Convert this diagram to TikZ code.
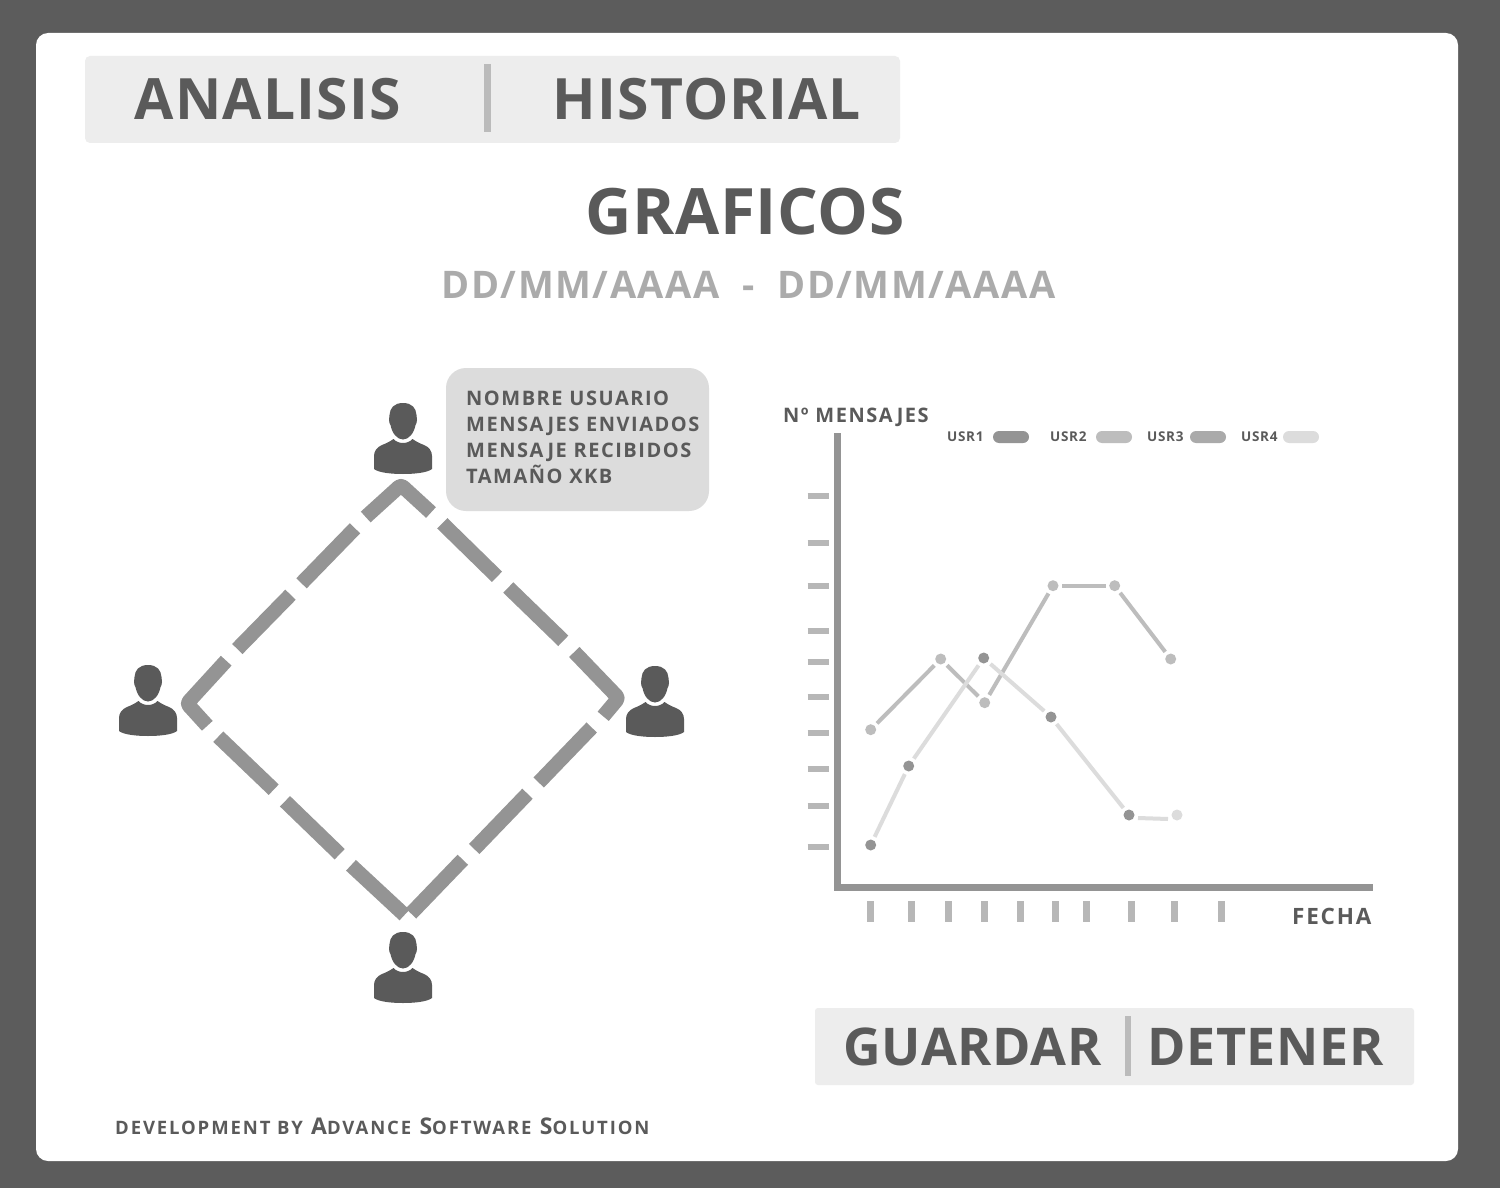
\documentclass[tikz,border=0pt]{standalone}
\usepackage{fontspec}
\usepackage{tikz}
\setmainfont{Open Sans}

\definecolor{bggray}{HTML}{5C5C5C}
\definecolor{txtgray}{HTML}{5A5A5A}
\definecolor{tabgray}{HTML}{EDEDED}
\definecolor{barbgray}{HTML}{BBBBBB}
\definecolor{datetxt}{HTML}{ABABAB}
\definecolor{infogray}{HTML}{DCDCDC}
\definecolor{usrone}{HTML}{949494}
\definecolor{usrtwo}{HTML}{BDBDBD}
\definecolor{usrthree}{HTML}{AAAAAA}
\definecolor{usrfour}{HTML}{DCDCDC}

\newcommand{\lowcaps}[1]{{\fontsize{18.5}{18.5}\selectfont #1}}

\tikzset{
    panel/.style={rectangle, fill=tabgray, rounded corners=5pt, inner sep=0pt},
    bigtext/.style={anchor=base west, inner sep=0pt, text=txtgray, font=\fontsize{57}{57}\selectfont\bfseries\addfontfeatures{LetterSpace=2}},
    btntext/.style={anchor=base west, inner sep=0pt, text=txtgray, font=\fontsize{52}{52}\selectfont\bfseries\addfontfeatures{LetterSpace=1.3}},
    smalltext/.style={anchor=base west, inner sep=0pt, text=txtgray, font=\fontsize{20}{20}\selectfont\bfseries\addfontfeatures{LetterSpace=7.6}},
    legendtext/.style={anchor=base west, inner sep=0pt, text=txtgray, font=\fontsize{13.5}{13.5}\selectfont\bfseries\addfontfeatures{LetterSpace=5}},
    pill/.style={rectangle, rounded corners=6pt, minimum width=36pt, minimum height=12pt, inner sep=0pt},
    link/.style={line width=14.5pt, draw=usrone, line join=round, rounded corners=3pt},
    axisline/.style={line width=7pt, draw=usrone},
    ticky/.style={line width=6pt, draw=usrthree!85},
    tickx/.style={line width=7pt, draw=usrthree!85},
    dot/.style={circle, minimum size=11pt, inner sep=0pt, outer sep=3.5pt},
    series/.style={line width=4pt},
    person/.pic={
        \fill[txtgray] (0,0) .. controls (9,0) and (13,5) .. (13.5,12) -- (14,17) .. controls (14,20) and (13,21) .. (12.5,22) .. controls (11,30) and (6,36.5) .. (0,36.5) .. controls (-6,36.5) and (-11,30) .. (-12.5,22) .. controls (-13,21) and (-14,20) .. (-14,17) -- (-13.5,12) .. controls (-13,5) and (-9,0) .. (0,0) -- cycle;
        \fill[txtgray] (-9.5,36) .. controls (-7,39) and (-3,40) .. (0,40) .. controls (3,40) and (7,39) .. (9.5,36) .. controls (13,38.5) and (17,40.5) .. (21,42) .. controls (26,44) and (29,48) .. (29,53) -- (29,66) .. controls (24,70) and (10,71) .. (0,71) .. controls (-10,71) and (-24,70) .. (-29,66) -- (-29,53) .. controls (-29,48) and (-26,44) .. (-21,42) .. controls (-17,40.5) and (-13,38.5) .. (-9.5,36) -- cycle;
    }
}

\begin{document}
\begin{tikzpicture}[x=1pt, y=-1pt]
    % Frame
    \fill[bggray] (0,0) rectangle (1500,1188);
    \fill[white, rounded corners=12pt] (36,33) rectangle (1458,1161);

    % Tabs
    \node (tabs) at (492.5,99.5) [panel, minimum width=815pt, minimum height=87pt] {};
    \draw[line width=7pt, draw=barbgray] (487.5,64) -- (487.5,132);
    \node (analisis) at (134.5,120) [bigtext] {ANALISIS};
    \node (historial) at (552.5,120) [bigtext] {HISTORIAL};

    % Title
    \node (title) at (745,234) [anchor=base, inner sep=0pt, text=txtgray, font=\fontsize{64}{64}\selectfont\bfseries\addfontfeatures{LetterSpace=1}] {GRAFICOS};
    \node (dates) at (748.5,298) [anchor=base, inner sep=0pt, text=datetxt, font=\fontsize{38}{38}\selectfont\bfseries\addfontfeatures{LetterSpace=4}] {DD/MM/AAAA\ \ -\ \ DD/MM/AAAA};

    % Users
    \pic (usrtop) at (403,403) {person};
    \pic (usrleft) at (148,665) {person};
    \pic (usrright) at (655,666) {person};
    \pic (usrbottom) at (403,932) {person};

    % Info box
    \node (info) at (577.5,439.5) [rectangle, fill=infogray, rounded corners=20pt, inner sep=0pt, minimum width=263pt, minimum height=143pt] {};
    \node (infoa) at (466,405) [smalltext] {NOMBRE USUARIO};
    \node (infob) at (466,431) [smalltext] {MENSAJES ENVIADOS};
    \node (infoc) at (466,457) [smalltext] {MENSAJE RECIBIDOS};
    \node (infod) at (466,483) [smalltext] {TAMAÑO XKB};

    % Diamond
    % top corner and left arm
    \draw[link] (431,512.5) -- (401,485) -- (365.7,517);
    \draw[link] (355,528.3) -- (301.5,583.3);
    \draw[link] (290.5,594.7) -- (237.3,649);
    % left corner and lower arm
    \draw[link] (226.2,660.7) -- (187,703.5) -- (207.3,725.8);
    \draw[link] (218.3,736.7) -- (273.7,789.7);
    \draw[link] (285,801.3) -- (339.7,854.2);
    \draw[link] (351,865.3) -- (404.5,915);
    % bottom corner and right arm
    \draw[link] (411,913.5) -- (462.8,859.7);
    \draw[link] (474.2,849) -- (527.5,793.7);
    \draw[link] (538.7,782.5) -- (591.7,727.5);
    % right corner and upper arm
    \draw[link] (603.2,716.3) -- (618.5,698) -- (574.3,652);
    \draw[link] (563.3,640.8) -- (508.3,587.5);
    \draw[link] (497,576.8) -- (442.3,523.3);

    % Axes
    \coordinate (ytop) at (837.5,433);
    \coordinate (origin) at (837.5,887);
    \coordinate (xend) at (1373,887);
    \draw[axisline] (ytop) -- (origin) -- (xend);
    \node (ylabel) at (783,422) [smalltext] {Nº MENSAJES};
    \node (xlabel) at (1292,924) [smalltext, font=\fontsize{22.5}{22.5}\selectfont\bfseries\addfontfeatures{LetterSpace=8}] {FECHA};

    % Ticks on y
    \draw[ticky] (807.5,496) -- (829,496);
    \draw[ticky] (807.5,543) -- (829,543);
    \draw[ticky] (807.5,586) -- (829,586);
    \draw[ticky] (807.5,631) -- (829,631);
    \draw[ticky] (807.5,662) -- (829,662);
    \draw[ticky] (807.5,697) -- (829,697);
    \draw[ticky] (807.5,733) -- (829,733);
    \draw[ticky] (807.5,769) -- (829,769);
    \draw[ticky] (807.5,806) -- (829,806);
    \draw[ticky] (807.5,847) -- (829,847);

    % Ticks on x
    \draw[tickx] (870.5,901) -- (870.5,922);
    \draw[tickx] (911.5,901) -- (911.5,922);
    \draw[tickx] (948.5,901) -- (948.5,922);
    \draw[tickx] (984.5,901) -- (984.5,922);
    \draw[tickx] (1020.5,901) -- (1020.5,922);
    \draw[tickx] (1055,901) -- (1055,922);
    \draw[tickx] (1086.5,901) -- (1086.5,922);
    \draw[tickx] (1131.5,901) -- (1131.5,922);
    \draw[tickx] (1174.5,901) -- (1174.5,922);
    \draw[tickx] (1221.5,901) -- (1221.5,922);

    % Legend
    \node (usra) at (947,441) [legendtext] {USR1};
    \node (pilla) at (1011,437) [pill, fill=usrone] {};
    \node (usrb) at (1050,441) [legendtext] {USR2};
    \node (pillb) at (1114,437) [pill, fill=usrtwo] {};
    \node (usrc) at (1147,441) [legendtext] {USR3};
    \node (pillc) at (1208,437) [pill, fill=usrthree] {};
    \node (usrd) at (1241,441) [legendtext] {USR4};
    \node (pilld) at (1301,437) [pill, fill=usrfour] {};

    % Series with light points
    \node (sa) at (870.7,729.7) [dot, fill=usrtwo] {};
    \node (sb) at (940.7,659) [dot, fill=usrtwo] {};
    \node (sc) at (984.7,702.7) [dot, fill=usrtwo] {};
    \node (sd) at (1053,585.7) [dot, fill=usrtwo] {};
    \node (se) at (1114.7,585.7) [dot, fill=usrtwo] {};
    \node (sf) at (1170.7,659) [dot, fill=usrtwo] {};
    \draw[series, usrtwo] (sa) -- (sb);
    \draw[series, usrtwo] (sb) -- (sc);
    \draw[series, usrtwo] (sc) -- (sd);
    \draw[series, usrtwo] (sd) -- (se);
    \draw[series, usrtwo] (se) -- (sf);

    % Series with dark points
    \node (ta) at (870.7,845) [dot, fill=usrone] {};
    \node (tb) at (908.7,766) [dot, fill=usrone] {};
    \node (tc) at (983.7,658) [dot, fill=usrone] {};
    \node (td) at (1051,717) [dot, fill=usrone] {};
    \node (te) at (1129,815) [dot, fill=usrone] {};
    \node (tf) at (1177,815) [dot, fill=usrfour] {};
    \draw[series, usrfour] (ta) -- (tb);
    \draw[series, usrfour] (tb) -- (tc);
    \draw[series, usrfour] (tc) -- (td);
    \draw[series, usrfour] (td) -- (te);
    \draw[series, usrfour] ([yshift=-3pt]te.east) -- ([yshift=-4pt]tf.west);

    % Buttons
    \node (buttons) at (1114.5,1046.5) [panel, rounded corners=3pt, minimum width=599pt, minimum height=77pt] {};
    \draw[line width=6pt, draw=barbgray] (1128,1016) -- (1128,1076);
    \node (guardar) at (843,1065) [btntext] {GUARDAR};
    \node (detener) at (1147,1065) [btntext] {DETENER};

    % Footer
    \node (footer) at (115,1134) [anchor=base west, inner sep=0pt, text=txtgray, font=\fontsize{23}{23}\selectfont\bfseries\addfontfeatures{LetterSpace=10.2}] {\lowcaps{DEVELOPMENT BY} A\lowcaps{DVANCE} S\lowcaps{OFTWARE} S\lowcaps{OLUTION}};
\end{tikzpicture}
\end{document}
